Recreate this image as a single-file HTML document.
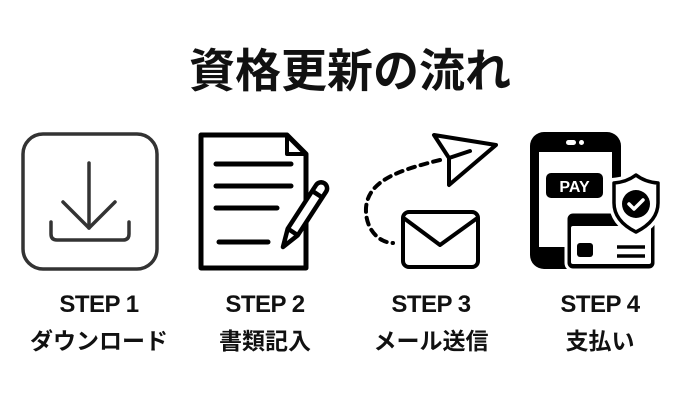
<!DOCTYPE html>
<html><head><meta charset="utf-8"><style>
html,body{margin:0;padding:0;background:#fff;}
body{width:700px;height:400px;overflow:hidden;position:relative;font-family:"Liberation Sans","Noto Sans CJK JP",sans-serif;}
.t{position:absolute;left:0;width:700px;text-align:center;top:37px;font-size:46px;font-weight:bold;color:#111;font-family:"Noto Sans CJK JP",sans-serif;line-height:62px;}
.s{position:absolute;width:180px;text-align:center;font-weight:bold;color:#111;}
.a{top:291px;font-size:24px;line-height:28px;font-family:"Liberation Sans",sans-serif;letter-spacing:-0.5px;}
.b{top:324px;font-size:23px;line-height:30px;font-family:"Noto Sans CJK JP",sans-serif;}
svg{position:absolute;left:0;top:0;}
</style></head><body>
<div class="t">資格更新の流れ</div>
<svg width="700" height="400" viewBox="0 0 700 400">
<g fill="none" stroke="#333" stroke-width="3.5" stroke-linecap="round" stroke-linejoin="round">
<rect x="23" y="134" width="134" height="135" rx="20"/>
<line x1="89" y1="163" x2="89" y2="228"/>
<polyline points="63,202 89,228 115,202"/>
<path d="M51,222 V234 Q51,240 57,240 H123 Q129,240 129,234 V222"/>
</g>
<g fill="none" stroke="#000" stroke-width="5" stroke-linejoin="round" stroke-linecap="round">
<path d="M201,135 H287 L306,154 V268 H201 Z"/>
<path d="M287,135 V154 H306" stroke-width="4"/>
<line x1="216" y1="164" x2="291" y2="164"/>
<line x1="216" y1="186" x2="291" y2="186"/>
<line x1="216" y1="208" x2="277" y2="208"/>
<line x1="219" y1="242" x2="268" y2="242"/>
</g>
<g transform="translate(320,190) rotate(33)" fill="#fff" stroke="#000" stroke-width="4.5" stroke-linejoin="round">
<path d="M-6,4 V-2 A6,6 0 0 1 6,-2 V4 V50 L0,68 L-6,50 Z"/>
<line x1="-6" y1="5" x2="6" y2="5"/>
<line x1="-6" y1="50" x2="6" y2="50"/>
</g>
<g fill="none" stroke="#000" stroke-width="4" stroke-linejoin="round" stroke-linecap="round">
<path d="M434,135 L496,145 L449,185 L449,158 Z"/>
<line x1="449" y1="158" x2="470" y2="151"/>
<path d="M440,160 C400,170 368,180 366,208 C365,230 380,243 393,243" stroke-dasharray="7,6"/>
<rect x="403" y="212" width="75" height="55" rx="6"/>
<polyline points="405,219 440,245 476,219"/>
</g>
<rect x="530" y="132" width="91" height="137" rx="14" fill="#000"/>
<rect x="539" y="152" width="73" height="95" fill="#fff"/>
<rect x="566" y="140" width="10" height="5" rx="2.5" fill="#fff"/>
<rect x="579" y="140" width="5" height="5" rx="2.5" fill="#fff"/>
<rect x="546" y="173" width="57" height="25" rx="5" fill="#000"/>
<text x="574.5" y="192" text-anchor="middle" font-family="Liberation Sans,sans-serif" font-weight="bold" font-size="16" fill="#fff">PAY</text>
<rect x="566" y="212" width="90" height="58" rx="7" fill="#000" stroke="#fff" stroke-width="3"/>
<rect x="571" y="226" width="80" height="38" rx="2" fill="#fff"/>
<rect x="577" y="243" width="16" height="14" rx="3" fill="#000"/>
<line x1="617" y1="247" x2="645" y2="247" stroke="#000" stroke-width="3.5"/>
<line x1="617" y1="256" x2="645" y2="256" stroke="#000" stroke-width="3.5"/>
<path d="M636,173 Q645,180 660,181 L660,203 Q660,223 636,235 Q612,223 612,203 L612,181 Q627,180 636,173 Z" fill="#fff" stroke="#fff" stroke-width="6" stroke-linejoin="round"/>
<path d="M636,175 Q645,182 658,183 L658,203 Q658,221 636,232 Q614,221 614,203 L614,183 Q627,182 636,175 Z" fill="#fff" stroke="#000" stroke-width="3.5" stroke-linejoin="round"/>
<circle cx="636" cy="204" r="14" fill="#000"/>
<polyline points="629,204 634,209 643,200" fill="none" stroke="#fff" stroke-width="3.5" stroke-linecap="round" stroke-linejoin="round"/>
</svg>
<div class="s a" style="left:9px">STEP 1</div>
<div class="s a" style="left:175px">STEP 2</div>
<div class="s a" style="left:341px">STEP 3</div>
<div class="s a" style="left:510px">STEP 4</div>
<div class="s b" style="left:9px">ダウンロード</div>
<div class="s b" style="left:175px">書類記入</div>
<div class="s b" style="left:341px">メール送信</div>
<div class="s b" style="left:510px">支払い</div>
</body></html>
